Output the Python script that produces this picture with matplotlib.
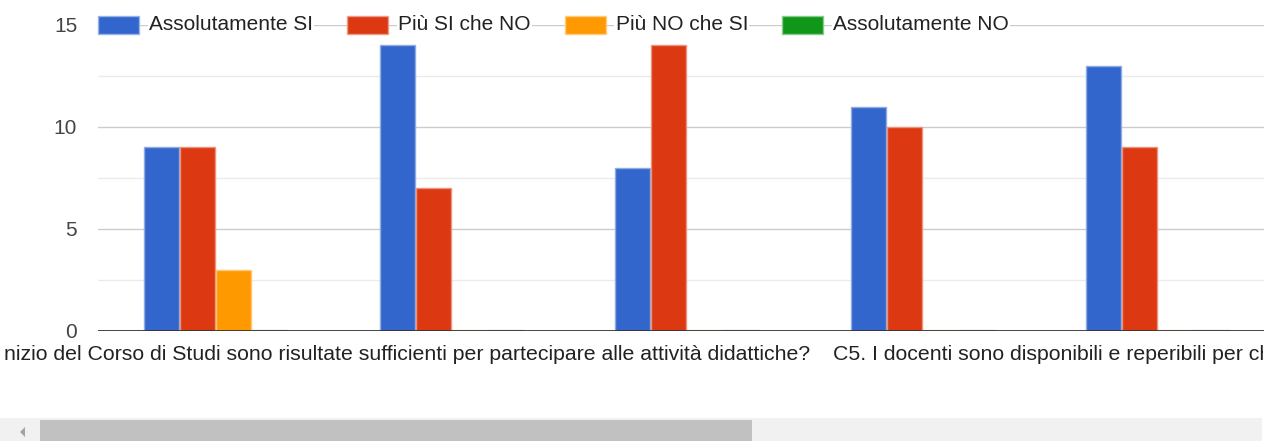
import numpy as np
import matplotlib
matplotlib.use("Agg")
import matplotlib.pyplot as plt
from matplotlib.patches import Rectangle
from matplotlib.colors import to_rgb

# #################### Data #################### #
serie = ["Assolutamente SI", "Più SI che NO", "Più NO che SI", "Assolutamente NO"]
colori = ["#3366cc", "#dc3912", "#ff9900", "#109618"]

assolutamente_si = [9, 14, 8, 11, 13]
piu_si_che_no = [9, 7, 14, 10, 9]
piu_no_che_si = [3, 0, 0, 0, 0]
assolutamente_no = [0, 0, 0, 0, 0]
valori = [assolutamente_si, piu_si_che_no, piu_no_che_si, assolutamente_no]

etichette_x = ["nizio del Corso di Studi sono risultate sufficienti per partecipare alle attività didattiche?",
               "C5. I docenti sono disponibili e reperibili per chiarimenti e spiegazioni?"]
tick_y = [0, 5, 10, 15]

# #################### Figure #################### #
W, H = 1275, 441
plt.rcParams['font.family'] = ['Liberation Sans', 'DejaVu Sans']
fig = plt.figure(figsize=(W / 100, H / 100), dpi=100)


def fx(px):
    return px / W


def fy(py):
    return 1 - py / H


ax = fig.add_axes([fx(98), fy(331), fx(1264) - fx(98), fy(25) - fy(331)])
ax.set_ylim(0, 15)
n = len(assolutamente_si)
ax.set_xlim(-0.5, -0.5 + (1264 - 98) / 235.5)

# gridlines
for g in np.arange(2.5, 15, 5):
    ax.axhline(g, color="#ebebeb", lw=1, zorder=0)
for g in tick_y[1:]:
    ax.axhline(g, color="#cccccc", lw=1, zorder=0)
ax.axhline(0, color="#333333", lw=2, zorder=4)

# bars
x = np.arange(n)
step = 0.153
width = 0.149
for k, (vals, col) in enumerate(zip(valori, colori)):
    off = (k - 1.5) * step
    rgb = np.array(to_rgb(col))
    edge = rgb + (1 - rgb) * 0.45
    for xi, v in zip(x, vals):
        if v > 0:
            ax.bar(xi + off, v, width, color=col, edgecolor=edge, lw=1, zorder=3)
        else:
            ax.plot([xi + off - width / 2, xi + off + width / 2], [0.04, 0.04],
                    color=edge, lw=1, alpha=0.6, zorder=3)

for s in ax.spines.values():
    s.set_visible(False)
ax.set_xticks([])
ax.set_yticks(tick_y)
ax.set_yticklabels([str(t) for t in tick_y], fontsize=15, color="#444444")
ax.tick_params(axis='y', length=0, pad=15)

# legend over the top gridline
fig.canvas.draw()
renderer = fig.canvas.get_renderer()
lx = 98
for nome, col in zip(serie, colori):
    rgb = np.array(to_rgb(col))
    edge = rgb + (1 - rgb) * 0.5
    fig.patches.append(Rectangle((fx(lx), fy(34)), fx(41), fy(16) - fy(34), facecolor=col,
                                 edgecolor=edge, lw=1, transform=fig.transFigure, zorder=5))
    t = fig.text(fx(lx + 51), fy(25), nome, fontsize=15, color="#222222", va="center", ha="left",
                 zorder=5, bbox=dict(facecolor="white", edgecolor="none", pad=1))
    bb = t.get_window_extent(renderer)
    lx = bb.x1 + 35 - 1

# x labels (clipped by the scroll container)
clip = Rectangle((0, 0), fx(1263), 1, transform=fig.transFigure, visible=False)
fig.patches.append(clip)
fig.text(fx(810), fy(355), etichette_x[0], fontsize=15.3, color="#222222", ha="right", va="center")
t2 = fig.text(fx(833), fy(355), etichette_x[1], fontsize=15.3, color="#222222", ha="left", va="center")
t2.set_clip_path(clip)

# horizontal scrollbar
fig.patches.append(Rectangle((0, 0), fx(1262), fy(418), facecolor="#f1f1f1", edgecolor="none",
                             transform=fig.transFigure))
fig.patches.append(Rectangle((fx(40), 0), fx(752) - fx(40), fy(420), facecolor="#c1c1c1",
                             edgecolor="none", transform=fig.transFigure))
fig.patches.append(plt.Polygon([[fx(20), fy(432)], [fx(25), fy(427)], [fx(25), fy(437)]],
                               closed=True, facecolor="#a3a3a3", edgecolor="none",
                               transform=fig.transFigure))

fig.savefig("out.png", dpi=100)
